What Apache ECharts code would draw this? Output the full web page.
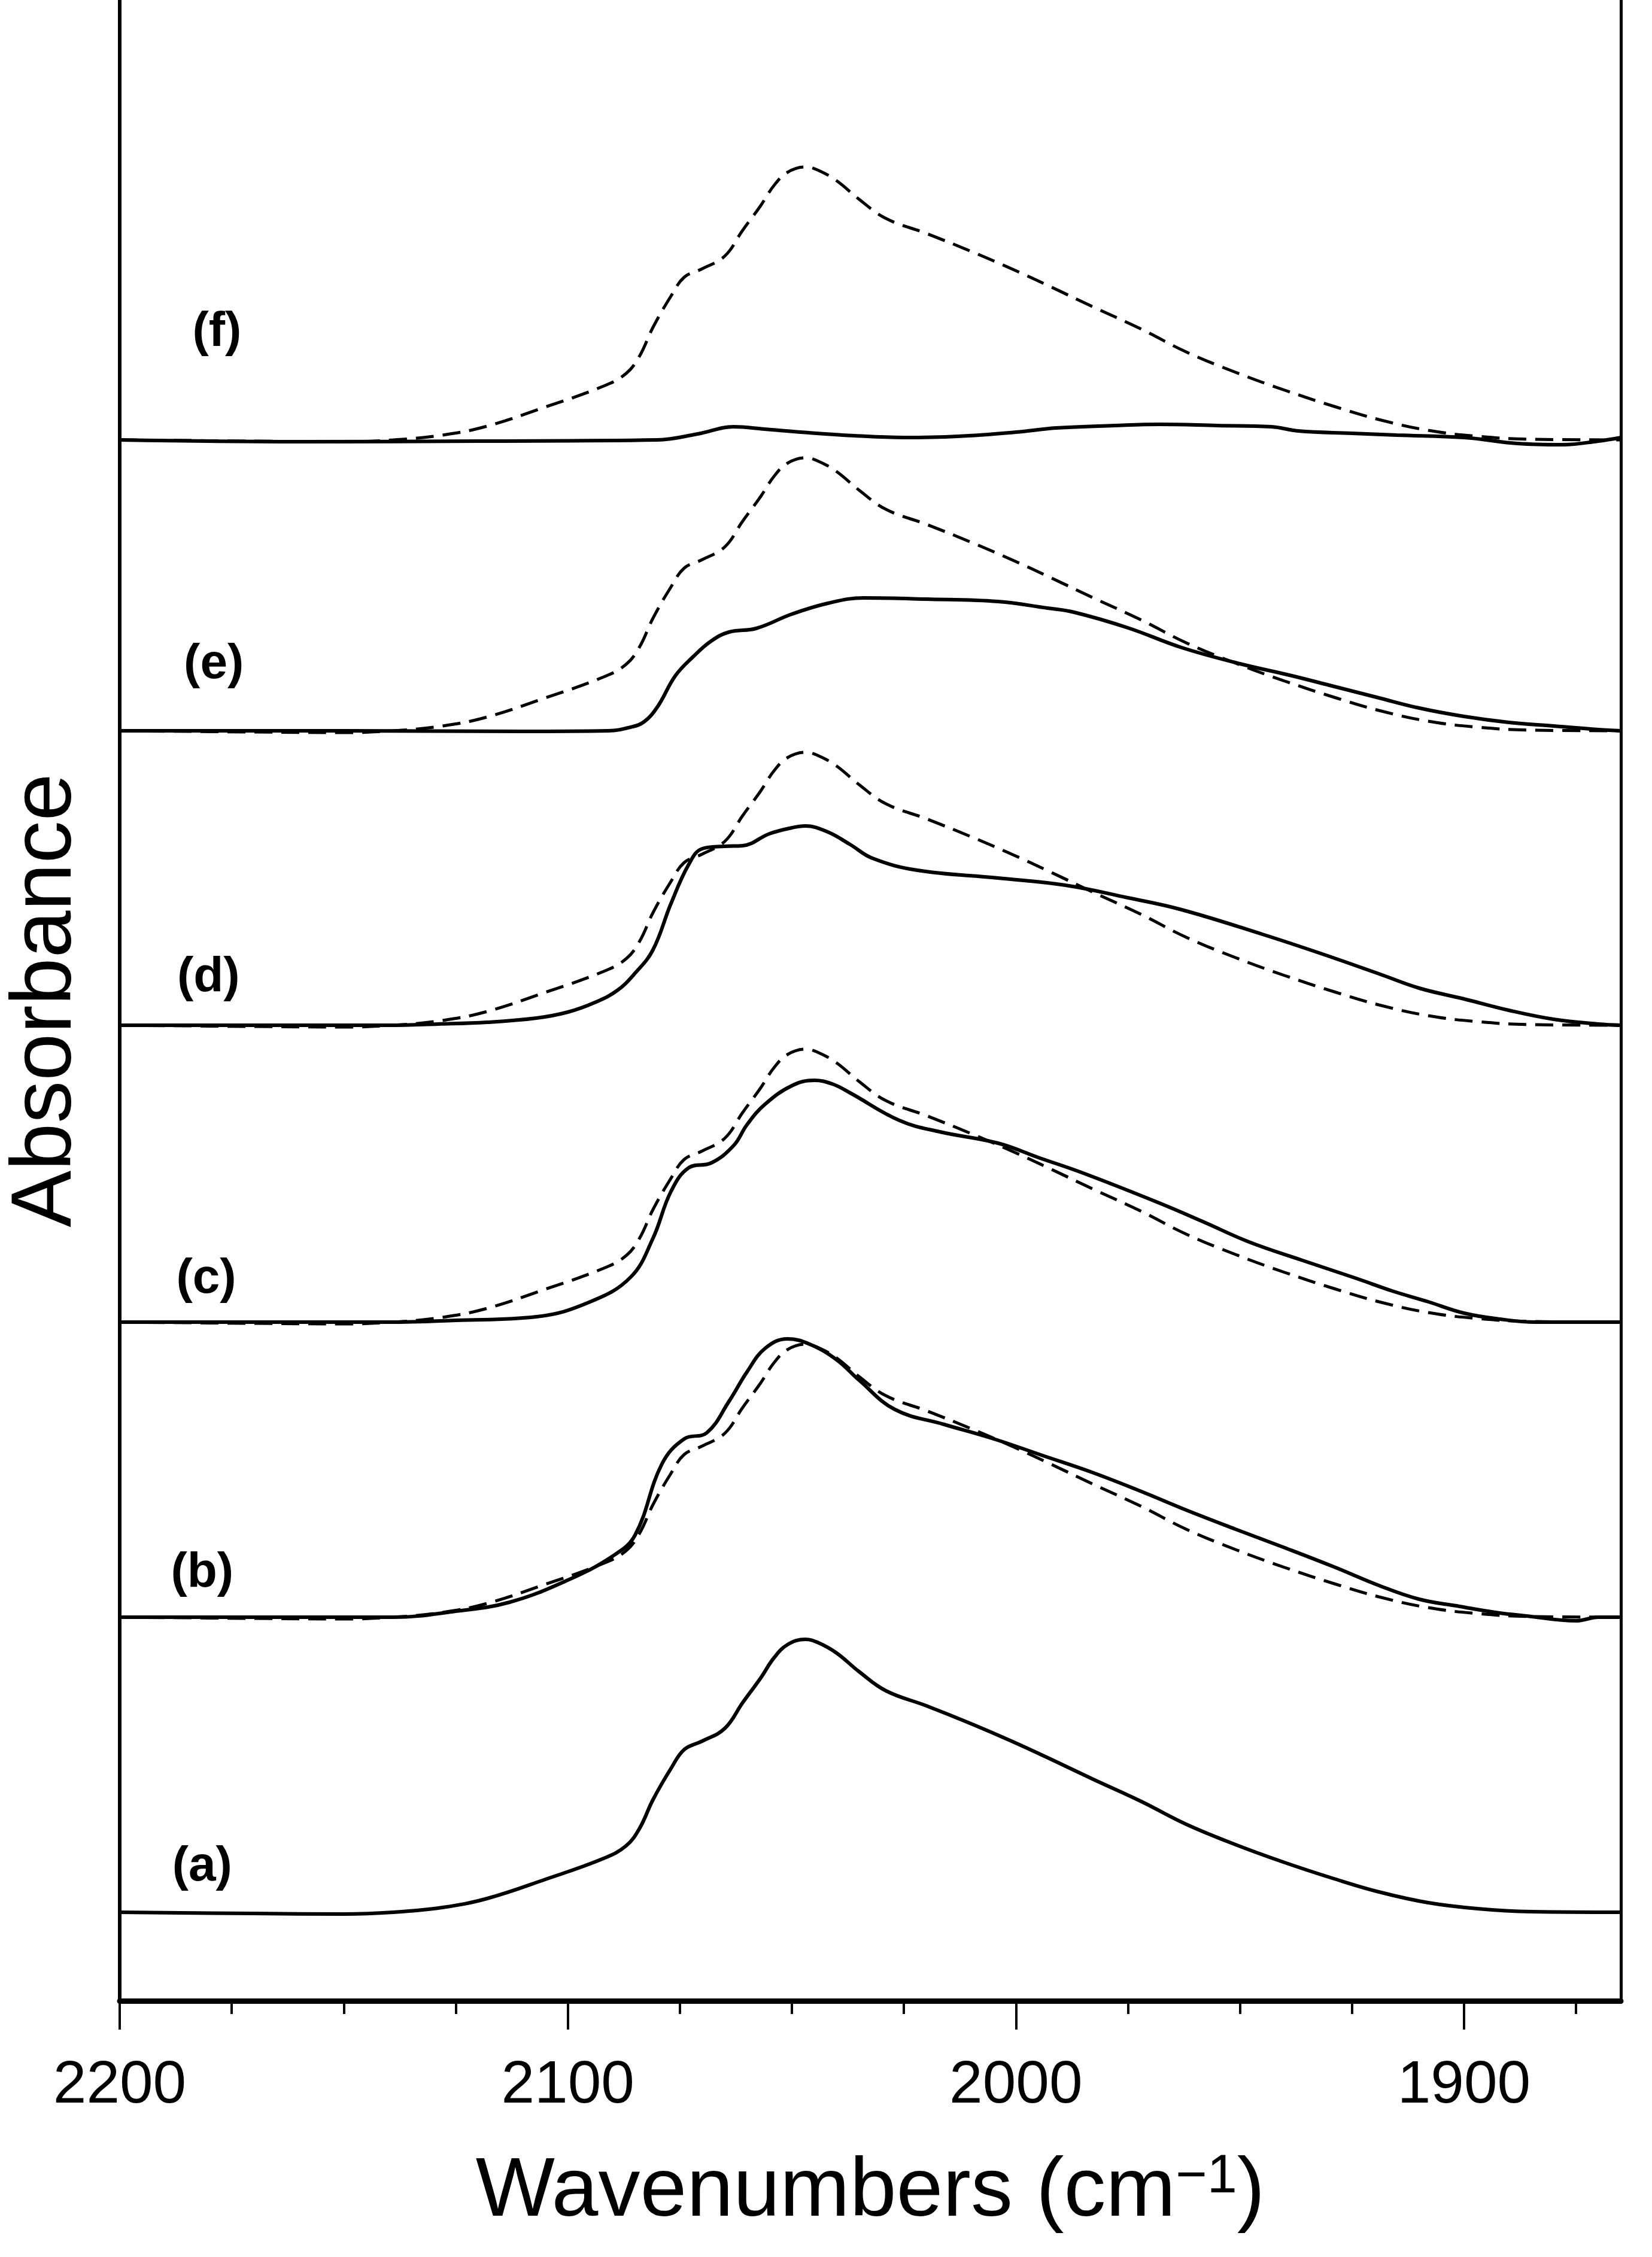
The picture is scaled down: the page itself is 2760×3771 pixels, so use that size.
<!DOCTYPE html>
<html><head><meta charset="utf-8">
<script src="https://cdn.jsdelivr.net/npm/echarts@6/dist/echarts.min.js"></script>
<style>html,body{margin:0;padding:0;background:#fff}#c{width:2760px;height:3771px}</style>
</head><body><div id="c"></div>
<script>
// Wavenumber ticks
const majorTicks = [1900, 2000, 2100, 2200];
const minorTicks = [1875, 1900, 1925, 1950, 1975, 2000, 2025, 2050, 2075, 2100, 2125, 2150, 2175, 2200];
// Vertical offsets of each trace (stacked spectra)
const baselines = { a: 148, b: 641, c: 1134, d: 1630, e: 2122, f: 2608 };
const panelLabels = ['(a)', '(b)', '(c)', '(d)', '(e)', '(f)'];
const labelPos = [[2181.6, 224], [2181.6, 715], [2180.7, 1206], [2180.2, 1710], [2179, 2233], [2178.3, 2788]];

// Reference spectrum (a), also used as the dashed trace in (b)-(f): [wavenumber, height]
const specA = [[2200,0],[2170,-2],[2150,-3],[2139,0],[2128,8],[2118,23],[2105,55],[2092,90],[2087,111],[2084,140],[2081,188],[2077,240],[2074,272],[2070,286],[2065,307],[2061,350],[2057,391],[2054,425],[2051,447],[2047,456],[2044,450],[2040,433],[2035,402],[2029,370],[2020,345],[2010,315],[2001,286],[1992,255],[1983,223],[1972,185],[1962,147],[1951,113],[1940,83],[1929,56],[1919,34],[1908,16],[1897,6],[1885,1],[1865,0]];
// Solid traces
const specB = [[2200,0],[2139,0],[2125,10],[2113,25],[2100,62],[2090,102],[2085,137],[2079,256],[2074,298],[2069,308],[2064,361],[2060,410],[2056,449],[2051,465],[2046,456],[2040,430],[2035,396],[2027,347],[2016,322],[2005,298],[1994,270],[1983,242],[1972,210],[1962,179],[1951,147],[1940,116],[1929,84],[1919,53],[1910,30],[1901,18],[1893,8],[1886,2],[1875,-6],[1870,0],[1865,0]];
const specC = [[2200,0],[2140,0],[2125,3],[2107,9],[2095,34],[2086,75],[2081,140],[2077,218],[2073,258],[2068,266],[2063,295],[2060,330],[2056,364],[2050,395],[2045,404],[2041,398],[2037,383],[2026,337],[2017,318],[2004,299],[1995,275],[1985,249],[1968,199],[1958,167],[1948,134],[1936,103],[1924,73],[1916,52],[1908,34],[1900,15],[1892,5],[1884,0],[1865,0]];
const specD = [[2200,0],[2140,0],[2129,2],[2118,5],[2107,12],[2100,22],[2094,38],[2089,58],[2085,87],[2081,126],[2077,203],[2073,269],[2070,295],[2065,299],[2061,300],[2055,320],[2050,330],[2047,333],[2042,323],[2037,302],[2032,279],[2022,259],[2004,246],[1989,234],[1975,213],[1963,193],[1945,152],[1932,120],[1919,86],[1910,62],[1900,44],[1890,25],[1880,10],[1870,2],[1865,0]];
const specE = [[2200,0],[2150,0],[2110,-1],[2091,0],[2086,6],[2083,15],[2080,40],[2076,92],[2072,124],[2068,150],[2064,165],[2058,171],[2050,195],[2042,213],[2034,222],[2020,220],[2004,216],[1993,205],[1987,198],[1975,172],[1963,139],[1950,112],[1939,93],[1930,76],[1919,55],[1910,38],[1900,24],[1890,14],[1880,8],[1870,2],[1865,0]];
const specF = [[2200,0],[2160,-3],[2120,-2],[2080,0],[2071,10],[2063,22],[2056,18],[2048,13],[2036,7],[2025,4],[2013,6],[2000,13],[1991,20],[1978,24],[1968,26],[1955,24],[1943,22],[1937,15],[1925,11],[1915,8],[1900,4],[1888,-6],[1878,-8],[1870,-2],[1865,4]];

function shift(arr, b) { return arr.map(p => [p[0], p[1] + b]); }

const solidSets = [['a', specA], ['b', specB], ['c', specC], ['d', specD], ['e', specE], ['f', specF]];
const series = [];
solidSets.forEach(([k, arr]) => {
  series.push({ type: 'line', data: shift(arr, baselines[k]), showSymbol: false, smooth: 0.4,
    lineStyle: { color: '#000', width: 6 }, z: 3 });
});
['b', 'c', 'd', 'e', 'f'].forEach(k => {
  series.push({ type: 'line', data: shift(specA, baselines[k]), showSymbol: false, smooth: 0.4,
    lineStyle: { color: '#000', width: 5, type: [30, 15] }, z: 2 });
});
series.push({ type: 'scatter', symbolSize: 1, itemStyle: { opacity: 0 },
  data: labelPos.map((p, i) => ({ value: p, name: panelLabels[i] })),
  label: { show: true, position: 'inside', formatter: '{b}', color: '#000', opacity: 1, fontSize: 82, fontWeight: 'bold', fontFamily: 'Liberation Sans, Arial' },
  emphasis: { disabled: true } });

const chart = echarts.init(document.getElementById('c'));
chart.setOption({
  backgroundColor: '#fff',
  animation: false,
  grid: { left: 188, right: 52, top: 0, bottom: 428 },
  xAxis: [{
    type: 'value', min: 1865, max: 2200, inverse: true,
    axisLine: { lineStyle: { color: '#000', width: 9 } },
    axisTick: { show: true, inside: false, length: 48, lineStyle: { color: '#000', width: 4 }, customValues: majorTicks },
    axisLabel: { customValues: majorTicks, margin: 92, fontSize: 100, color: '#000', fontFamily: 'Liberation Sans, Arial', formatter: v => String(v) },
    splitLine: { show: false },
    name: 'Wavenumbers (cm{s|−1})', nameLocation: 'middle', nameGap: 250,
    nameTextStyle: { fontSize: 140, color: '#000', fontFamily: 'Liberation Sans, Arial',
      rich: { s: { fontSize: 90, verticalAlign: 'top', lineHeight: 90, padding: [0, 0, 70, 0], fontFamily: 'Liberation Sans, Arial' } } }
  }, {
    type: 'value', min: 1865, max: 2200, inverse: true, position: 'bottom',
    axisLine: { show: false },
    axisTick: { show: true, length: 22, lineStyle: { color: '#000', width: 4 }, customValues: minorTicks },
    axisLabel: { show: false }, splitLine: { show: false }
  }],
  yAxis: [{
    type: 'value', min: 0, max: 3343,
    axisLine: { show: true, lineStyle: { color: '#000', width: 6 } },
    axisTick: { show: false }, axisLabel: { show: false }, splitLine: { show: false },
    name: 'Absorbance', nameLocation: 'middle', nameGap: 50,
    nameTextStyle: { fontSize: 142, color: '#000', fontFamily: 'Liberation Sans, Arial' }
  }, {
    type: 'value', min: 0, max: 3343, position: 'right',
    axisLine: { show: true, lineStyle: { color: '#000', width: 5 } },
    axisTick: { show: false }, axisLabel: { show: false }, splitLine: { show: false }
  }],
  series: series
});
</script></body></html>
